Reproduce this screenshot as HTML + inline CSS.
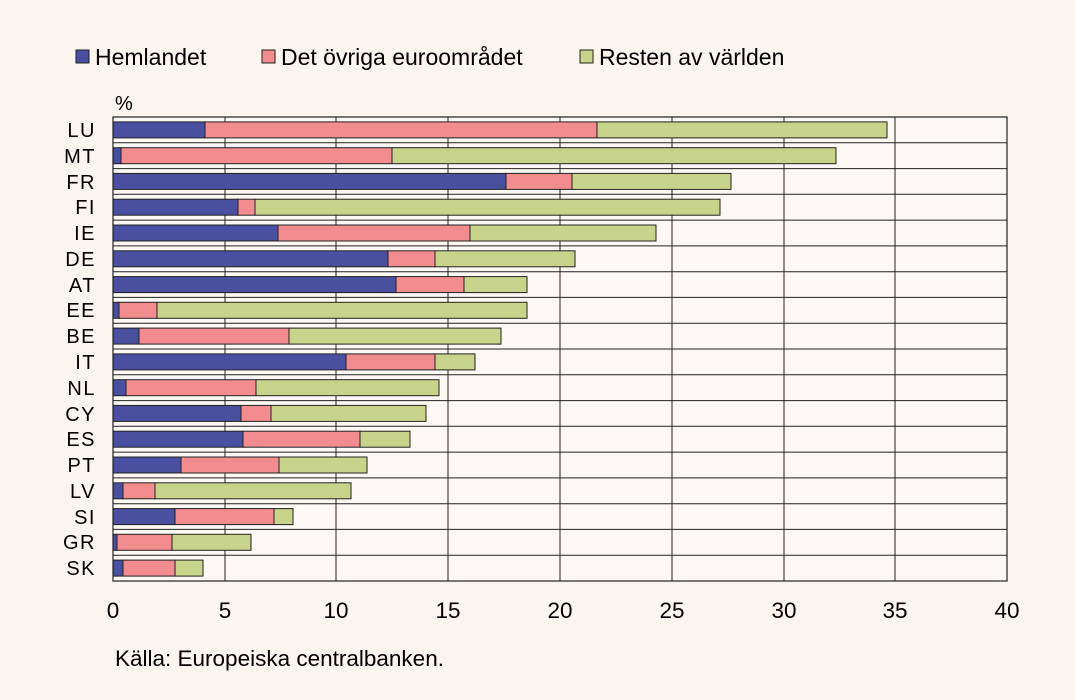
<!DOCTYPE html>
<html><head><meta charset="utf-8"><style>
html,body{margin:0;padding:0;background:#faf5ef;}
svg{display:block;font-family:"Liberation Sans",Arial,sans-serif;}
</style></head><body>
<svg width="1075" height="700" viewBox="0 0 1075 700">
<rect x="0" y="0" width="1075" height="700" fill="#faf5ef"/>
<rect x="113" y="117" width="894" height="464" fill="#fcf9f4"/>
<g font-size="23" fill="#000">
<rect x="76" y="50" width="13" height="13" fill="#4a4fa0" stroke="#222" stroke-width="1"/>
<text x="95" y="65">Hemlandet</text>
<rect x="262" y="50" width="13" height="13" fill="#f28c8f" stroke="#222" stroke-width="1"/>
<text x="281" y="65">Det övriga euroområdet</text>
<rect x="580" y="50" width="13" height="13" fill="#c8d48c" stroke="#222" stroke-width="1"/>
<text x="599" y="65">Resten av världen</text>
<text x="115" y="110" font-size="20">%</text>
</g>
<g stroke="#222" stroke-width="1">
<line x1="225" y1="117" x2="225" y2="581"/><line x1="336" y1="117" x2="336" y2="581"/>
<line x1="448" y1="117" x2="448" y2="581"/><line x1="560" y1="117" x2="560" y2="581"/>
<line x1="672" y1="117" x2="672" y2="581"/><line x1="784" y1="117" x2="784" y2="581"/>
<line x1="895" y1="117" x2="895" y2="581"/>
<line x1="113" y1="142.8" x2="1007" y2="142.8"/><line x1="113" y1="168.6" x2="1007" y2="168.6"/>
<line x1="113" y1="194.3" x2="1007" y2="194.3"/><line x1="113" y1="220.1" x2="1007" y2="220.1"/>
<line x1="113" y1="245.9" x2="1007" y2="245.9"/><line x1="113" y1="271.7" x2="1007" y2="271.7"/>
<line x1="113" y1="297.4" x2="1007" y2="297.4"/><line x1="113" y1="323.2" x2="1007" y2="323.2"/>
<line x1="113" y1="349" x2="1007" y2="349"/><line x1="113" y1="374.8" x2="1007" y2="374.8"/>
<line x1="113" y1="400.6" x2="1007" y2="400.6"/><line x1="113" y1="426.3" x2="1007" y2="426.3"/>
<line x1="113" y1="452.1" x2="1007" y2="452.1"/><line x1="113" y1="477.9" x2="1007" y2="477.9"/>
<line x1="113" y1="503.7" x2="1007" y2="503.7"/><line x1="113" y1="529.4" x2="1007" y2="529.4"/>
<line x1="113" y1="555.2" x2="1007" y2="555.2"/>
</g>
<g stroke="#222" stroke-width="1">
<rect x="113" y="121.9" width="92" height="16" fill="#4a4fa0"/><rect x="205" y="121.9" width="392" height="16" fill="#f28c8f"/><rect x="597" y="121.9" width="290" height="16" fill="#c8d48c"/>
<rect x="113" y="147.7" width="8" height="16" fill="#4a4fa0"/><rect x="121" y="147.7" width="271" height="16" fill="#f28c8f"/><rect x="392" y="147.7" width="444" height="16" fill="#c8d48c"/>
<rect x="113" y="173.4" width="393" height="16" fill="#4a4fa0"/><rect x="506" y="173.4" width="66" height="16" fill="#f28c8f"/><rect x="572" y="173.4" width="159" height="16" fill="#c8d48c"/>
<rect x="113" y="199.2" width="125" height="16" fill="#4a4fa0"/><rect x="238" y="199.2" width="17" height="16" fill="#f28c8f"/><rect x="255" y="199.2" width="465" height="16" fill="#c8d48c"/>
<rect x="113" y="225" width="165" height="16" fill="#4a4fa0"/><rect x="278" y="225" width="192" height="16" fill="#f28c8f"/><rect x="470" y="225" width="186" height="16" fill="#c8d48c"/>
<rect x="113" y="250.8" width="275" height="16" fill="#4a4fa0"/><rect x="388" y="250.8" width="47" height="16" fill="#f28c8f"/><rect x="435" y="250.8" width="140" height="16" fill="#c8d48c"/>
<rect x="113" y="276.6" width="283" height="16" fill="#4a4fa0"/><rect x="396" y="276.6" width="68" height="16" fill="#f28c8f"/><rect x="464" y="276.6" width="63" height="16" fill="#c8d48c"/>
<rect x="113" y="302.3" width="6" height="16" fill="#4a4fa0"/><rect x="119" y="302.3" width="38" height="16" fill="#f28c8f"/><rect x="157" y="302.3" width="370" height="16" fill="#c8d48c"/>
<rect x="113" y="328.1" width="26" height="16" fill="#4a4fa0"/><rect x="139" y="328.1" width="150" height="16" fill="#f28c8f"/><rect x="289" y="328.1" width="212" height="16" fill="#c8d48c"/>
<rect x="113" y="353.9" width="233" height="16" fill="#4a4fa0"/><rect x="346" y="353.9" width="89" height="16" fill="#f28c8f"/><rect x="435" y="353.9" width="40" height="16" fill="#c8d48c"/>
<rect x="113" y="379.7" width="13" height="16" fill="#4a4fa0"/><rect x="126" y="379.7" width="130" height="16" fill="#f28c8f"/><rect x="256" y="379.7" width="183" height="16" fill="#c8d48c"/>
<rect x="113" y="405.4" width="128" height="16" fill="#4a4fa0"/><rect x="241" y="405.4" width="30" height="16" fill="#f28c8f"/><rect x="271" y="405.4" width="155" height="16" fill="#c8d48c"/>
<rect x="113" y="431.2" width="130" height="16" fill="#4a4fa0"/><rect x="243" y="431.2" width="117" height="16" fill="#f28c8f"/><rect x="360" y="431.2" width="50" height="16" fill="#c8d48c"/>
<rect x="113" y="457" width="68" height="16" fill="#4a4fa0"/><rect x="181" y="457" width="98" height="16" fill="#f28c8f"/><rect x="279" y="457" width="88" height="16" fill="#c8d48c"/>
<rect x="113" y="482.8" width="10" height="16" fill="#4a4fa0"/><rect x="123" y="482.8" width="32" height="16" fill="#f28c8f"/><rect x="155" y="482.8" width="196" height="16" fill="#c8d48c"/>
<rect x="113" y="508.6" width="62" height="16" fill="#4a4fa0"/><rect x="175" y="508.6" width="99" height="16" fill="#f28c8f"/><rect x="274" y="508.6" width="19" height="16" fill="#c8d48c"/>
<rect x="113" y="534.3" width="4" height="16" fill="#4a4fa0"/><rect x="117" y="534.3" width="55" height="16" fill="#f28c8f"/><rect x="172" y="534.3" width="79" height="16" fill="#c8d48c"/>
<rect x="113" y="560.1" width="10" height="16" fill="#4a4fa0"/><rect x="123" y="560.1" width="52" height="16" fill="#f28c8f"/><rect x="175" y="560.1" width="28" height="16" fill="#c8d48c"/>
</g>
<g font-size="20" text-anchor="end" letter-spacing="1.5">
<text x="96" y="137">LU</text><text x="96" y="163">MT</text><text x="96" y="189">FR</text>
<text x="96" y="214">FI</text><text x="96" y="240">IE</text><text x="96" y="266">DE</text>
<text x="96" y="292">AT</text><text x="96" y="317">EE</text><text x="96" y="343">BE</text>
<text x="96" y="369">IT</text><text x="96" y="395">NL</text><text x="96" y="421">CY</text>
<text x="96" y="446">ES</text><text x="96" y="472">PT</text><text x="96" y="498">LV</text>
<text x="96" y="524">SI</text><text x="96" y="549">GR</text><text x="96" y="575">SK</text>
</g>
<rect x="113" y="117" width="894" height="464" fill="none" stroke="#222" stroke-width="1.2"/>
<g font-size="22.5" text-anchor="middle">
<text x="113" y="618">0</text><text x="225" y="618">5</text><text x="336" y="618">10</text>
<text x="448" y="618">15</text><text x="560" y="618">20</text><text x="672" y="618">25</text>
<text x="784" y="618">30</text><text x="895" y="618">35</text><text x="1007" y="618">40</text>
</g>
<text x="115" y="666" font-size="22.5">Källa: Europeiska centralbanken.</text>
</svg>
</body></html>
